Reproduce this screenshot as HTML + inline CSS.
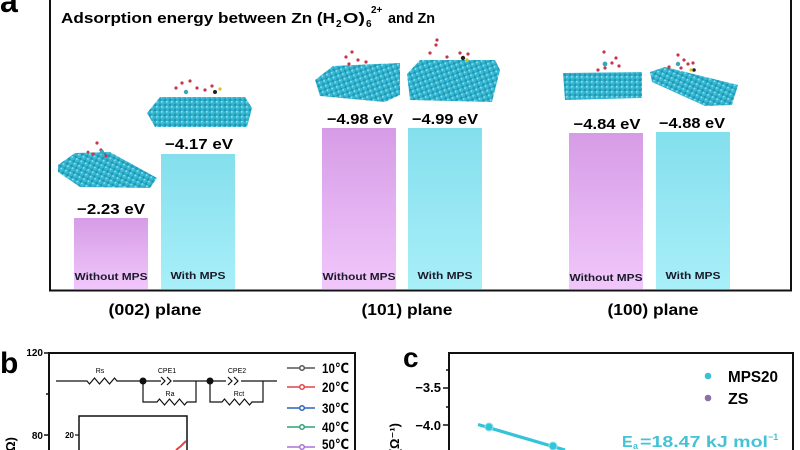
<!DOCTYPE html>
<html><head><meta charset="utf-8"><style>
html,body{margin:0;padding:0;background:#fff;width:800px;height:450px;overflow:hidden;}
svg{display:block;}
text{font-family:"Liberation Sans","DejaVu Sans","Noto Sans CJK SC",sans-serif;font-weight:bold;}
</style></head><body>
<svg width="800" height="450" viewBox="0 0 800 450" xmlns="http://www.w3.org/2000/svg">
<defs>
<linearGradient id="gp" x1="0" y1="0" x2="0" y2="1"><stop offset="0" stop-color="#d69ce6"/><stop offset="1" stop-color="#f1c7fb"/></linearGradient>
<linearGradient id="gc" x1="0" y1="0" x2="0" y2="1"><stop offset="0" stop-color="#84dfed"/><stop offset="1" stop-color="#a8eff9"/></linearGradient>
<pattern id="zn" width="5" height="5" patternUnits="userSpaceOnUse"><rect width="5" height="5" fill="#1f94b0"/><circle cx="2.5" cy="2.5" r="2.4" fill="#36b9d4"/><circle cx="1.8" cy="1.8" r="0.9" fill="#8ee2f1"/></pattern>
<pattern id="znd" width="5" height="5" patternUnits="userSpaceOnUse" patternTransform="rotate(25)"><rect width="5" height="5" fill="#1f94b0"/><circle cx="2.5" cy="2.5" r="2.4" fill="#36b9d4"/><circle cx="1.8" cy="1.8" r="0.9" fill="#8ee2f1"/></pattern>
<pattern id="znr" width="5" height="5" patternUnits="userSpaceOnUse" patternTransform="rotate(-20)"><rect width="5" height="5" fill="#1f94b0"/><circle cx="2.5" cy="2.5" r="2.4" fill="#36b9d4"/><circle cx="1.8" cy="1.8" r="0.9" fill="#8ee2f1"/></pattern>
</defs>

<!-- Panel a -->
<text x="0" y="12" font-size="32">a</text>
<path d="M50,0 V290.5 H791 V0" fill="none" stroke="#111" stroke-width="2"/>

<text x="61" y="23" font-size="15" textLength="274" lengthAdjust="spacingAndGlyphs">Adsorption energy between Zn (H</text>
<text x="336" y="27" font-size="10">2</text>
<text x="343" y="23" font-size="15" textLength="22" lengthAdjust="spacingAndGlyphs">O)</text>
<text x="366" y="27" font-size="10">6</text>
<text x="371" y="13" font-size="10">2+</text>
<text x="388" y="23" font-size="15" textLength="47" lengthAdjust="spacingAndGlyphs">and Zn</text>

<!-- bars -->
<rect x="74" y="218" width="74" height="71" fill="url(#gp)"/>
<rect x="161" y="154" width="74" height="135" fill="url(#gc)"/>
<rect x="322" y="128" width="74" height="161" fill="url(#gp)"/>
<rect x="408" y="128" width="74" height="161" fill="url(#gc)"/>
<rect x="569" y="133" width="74" height="156" fill="url(#gp)"/>
<rect x="656" y="132" width="74" height="157" fill="url(#gc)"/>

<!-- value labels -->
<g font-size="15" text-anchor="middle">
<text x="111" y="214" textLength="68" lengthAdjust="spacingAndGlyphs">−2.23 eV</text>
<text x="199" y="149" textLength="68" lengthAdjust="spacingAndGlyphs">−4.17 eV</text>
<text x="360" y="124" textLength="66" lengthAdjust="spacingAndGlyphs">−4.98 eV</text>
<text x="445" y="124" textLength="66" lengthAdjust="spacingAndGlyphs">−4.99 eV</text>
<text x="607" y="129" textLength="67" lengthAdjust="spacingAndGlyphs">−4.84 eV</text>
<text x="692" y="128" textLength="66" lengthAdjust="spacingAndGlyphs">−4.88 eV</text>
</g>
<g font-size="10" text-anchor="middle" fill="#1a1a2a">
<text x="111" y="280" textLength="73" lengthAdjust="spacingAndGlyphs">Without MPS</text>
<text x="198" y="279" textLength="55" lengthAdjust="spacingAndGlyphs">With MPS</text>
<text x="359" y="280" textLength="73" lengthAdjust="spacingAndGlyphs">Without MPS</text>
<text x="445" y="279" textLength="55" lengthAdjust="spacingAndGlyphs">With MPS</text>
<text x="606" y="281" textLength="73" lengthAdjust="spacingAndGlyphs">Without MPS</text>
<text x="693" y="279" textLength="55" lengthAdjust="spacingAndGlyphs">With MPS</text>
</g>
<g font-size="16" text-anchor="middle">
<text x="155" y="315" textLength="93" lengthAdjust="spacingAndGlyphs">(002) plane</text>
<text x="407" y="315" textLength="91" lengthAdjust="spacingAndGlyphs">(101) plane</text>
<text x="653" y="315" textLength="91" lengthAdjust="spacingAndGlyphs">(100) plane</text>
</g>

<!-- crystal slabs -->
<polygon points="58,165 75,153 110,152 157,178 150,188 80,187 58,172" fill="url(#znd)"/>
<polygon points="147,113 160,97 245,97 252,108 247,127 155,127" fill="url(#zn)"/>
<polygon points="315,80 333,66 400,63 400,95 385,102 320,96" fill="url(#znr)"/>
<polygon points="407,74 420,60 495,60 500,70 492,102 410,100" fill="url(#znr)"/>
<polygon points="563,73 642,72 642,98 565,100" fill="url(#zn)"/>
<polygon points="650,72 665,67 738,85 732,105 705,106 652,82" fill="url(#znd)"/>

<!-- molecules -->
<g fill="#c9354c">
<circle cx="97" cy="143" r="1.6"/><circle cx="101" cy="150" r="1.6"/><circle cx="93" cy="154" r="1.6"/><circle cx="106" cy="156" r="1.6"/><circle cx="88" cy="152" r="1.4"/>
<circle cx="176" cy="88" r="1.6"/><circle cx="182" cy="83" r="1.6"/><circle cx="190" cy="81" r="1.6"/><circle cx="197" cy="88" r="1.6"/><circle cx="205" cy="90" r="1.6"/><circle cx="212" cy="86" r="1.6"/>
<circle cx="346" cy="57" r="1.6"/><circle cx="352" cy="52" r="1.6"/><circle cx="358" cy="60" r="1.6"/><circle cx="366" cy="62" r="1.6"/><circle cx="349" cy="64" r="1.6"/>
<circle cx="430" cy="53" r="1.6"/><circle cx="436" cy="45" r="1.6"/><circle cx="437" cy="40" r="1.6"/><circle cx="447" cy="57" r="1.6"/><circle cx="460" cy="53" r="1.6"/><circle cx="468" cy="54" r="1.6"/>
<circle cx="604" cy="52" r="1.6"/><circle cx="605" cy="68" r="1.6"/><circle cx="612" cy="63" r="1.6"/><circle cx="616" cy="58" r="1.6"/><circle cx="619" cy="66" r="1.6"/><circle cx="598" cy="70" r="1.6"/>
<circle cx="678" cy="55" r="1.6"/><circle cx="684" cy="60" r="1.6"/><circle cx="688" cy="64" r="1.6"/><circle cx="681" cy="68" r="1.6"/><circle cx="669" cy="67" r="1.6"/><circle cx="693" cy="63" r="1.6"/>
</g>
<g fill="#222">
<circle cx="215" cy="92" r="2"/><circle cx="463" cy="58" r="2.2"/><circle cx="694" cy="70" r="1.8"/>
</g>
<g fill="#e0c020">
<circle cx="220" cy="89" r="1.6"/><circle cx="467" cy="60" r="1.6"/><circle cx="691" cy="70" r="1.6"/>
</g>
<g fill="#3aa7bd"><circle cx="102" cy="152" r="2.2"/><circle cx="186" cy="92" r="2.2"/><circle cx="605" cy="64" r="2.4"/><circle cx="678" cy="64" r="2.2"/></g>

<!-- Panel b -->
<text x="0" y="373" font-size="30">b</text>
<path d="M49,450 V353 H355 V450" fill="none" stroke="#111" stroke-width="2"/>
<g font-size="10" text-anchor="end"><text x="43" y="356">120</text><text x="43" y="439">80</text></g>
<path d="M44,353 H49 M44,435 H49 M46,394 H49" stroke="#111" stroke-width="1.5"/>
<text transform="translate(15,437) rotate(-90)" font-size="13" text-anchor="end">-Z'' (Ω)</text>

<!-- circuit -->
<g fill="none" stroke="#111" stroke-width="1.2">
<path d="M56,381 H87 l2.5,3 l5,-6 l5,6 l5,-6 l5,6 l5,-6 l2.5,3 H161 M173,381 H226 M241,381 H277"/>
<path d="M161,377 l4,4 l-4,4 M167,377 l4,4 l-4,4"/>
<path d="M228,377 l4,4 l-4,4 M234,377 l4,4 l-4,4"/>
<path d="M143,381 V402 H157 l2.5,-3 l5,6 l5,-6 l5,6 l5,-6 l5,6 l2.5,-3 H196 V381"/>
<path d="M210,381 V402 H222 l2.5,-3 l5,6 l5,-6 l5,6 l5,-6 l5,6 l2.5,-3 H263 V381"/>
</g>
<circle cx="143" cy="381" r="3.5" fill="#111"/><circle cx="210" cy="381" r="3.5" fill="#111"/>
<g font-size="7" text-anchor="middle">
<text x="100" y="373" style="font-weight:normal">Rs</text>
<text x="167" y="373" style="font-weight:normal">CPE1</text>
<text x="237" y="373" style="font-weight:normal">CPE2</text>
<text x="170" y="396" style="font-weight:normal">Ra</text>
<text x="239" y="396" style="font-weight:normal">Rct</text>
</g>
<!-- legend b -->
<g stroke-width="1.5" fill="#fff">
<path d="M287,368 H315" stroke="#555"/><circle cx="302" cy="368" r="2.3" stroke="#555"/>
<path d="M287,387 H315" stroke="#e04545"/><circle cx="302" cy="387" r="2.3" stroke="#e04545"/>
<path d="M287,408 H315" stroke="#2a63c0"/><circle cx="302" cy="408" r="2.3" stroke="#2a63c0"/>
<path d="M287,427 H315" stroke="#2fa275"/><circle cx="302" cy="427" r="2.3" stroke="#2fa275"/>
<path d="M287,447 H315" stroke="#a873d6"/><circle cx="302" cy="447" r="2.3" stroke="#a873d6"/>
</g>
<g font-size="14">
<text x="322" y="373" textLength="27" lengthAdjust="spacingAndGlyphs">10℃</text>
<text x="322" y="392" textLength="27" lengthAdjust="spacingAndGlyphs">20℃</text>
<text x="322" y="413" textLength="27" lengthAdjust="spacingAndGlyphs">30℃</text>
<text x="322" y="432" textLength="27" lengthAdjust="spacingAndGlyphs">40℃</text>
<text x="322" y="449" textLength="27" lengthAdjust="spacingAndGlyphs">50℃</text>
</g>
<!-- inset -->
<path d="M79,450 V416 H187 V450" fill="none" stroke="#111" stroke-width="1.5"/>
<path d="M75,435 H79" stroke="#111" stroke-width="1.2"/>
<text x="74" y="438" font-size="8" text-anchor="end">20</text>
<path d="M176,450 L181,446 L186,441" stroke="#e04545" stroke-width="2" fill="none"/>

<!-- Panel c -->
<text x="403" y="367" font-size="28">c</text>
<path d="M449,450 V353 H793 V450" fill="none" stroke="#111" stroke-width="2"/>
<g font-size="13" text-anchor="end"><text x="441" y="392">−3.5</text><text x="441" y="430">−4.0</text></g>
<path d="M443,388 H449 M443,425 H449 M446,370 H449 M446,407 H449" stroke="#111" stroke-width="1.5"/>
<text transform="translate(399,423) rotate(-90)" font-size="13" text-anchor="end">ln σ (Ω⁻¹)</text>
<path d="M478,424.5 L565,450" stroke="#35c3da" stroke-width="3.2"/>
<circle cx="489" cy="427" r="4" fill="#35c3da" stroke="#8fe3ef" stroke-width="1"/>
<circle cx="553" cy="446" r="4" fill="#35c3da" stroke="#8fe3ef" stroke-width="1"/>
<circle cx="708" cy="376" r="3.3" fill="#3bbfd6"/>
<circle cx="708" cy="398" r="3.3" fill="#8a6fa8"/>
<text x="728" y="382" font-size="16" textLength="50" lengthAdjust="spacingAndGlyphs">MPS20</text>
<text x="728" y="404" font-size="16">ZS</text>
<g fill="#44c2d6"><text x="622" y="447" font-size="16">E</text><text x="633" y="449" font-size="9">a</text>
<text x="640" y="447" font-size="16" textLength="128" lengthAdjust="spacingAndGlyphs">=18.47 kJ mol</text><text x="768" y="440" font-size="9">−1</text></g>
</svg>
</body></html>
